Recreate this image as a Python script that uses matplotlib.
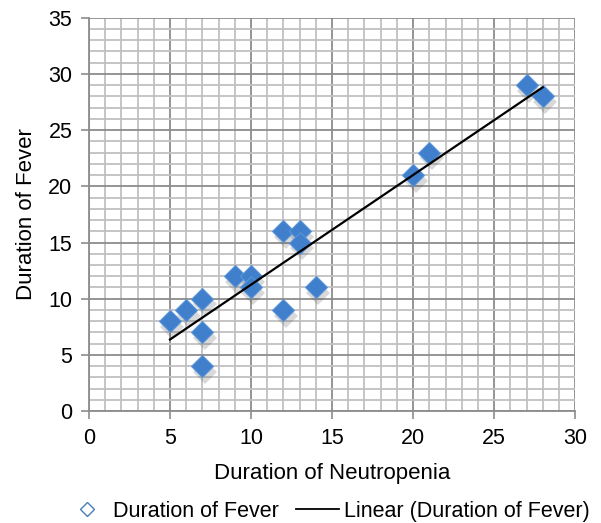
import matplotlib
matplotlib.use("Agg")
import matplotlib.pyplot as plt
import numpy as np
from matplotlib.lines import Line2D

neutropenia = [5, 6, 7, 7, 7, 9, 10, 10, 12, 12, 13, 13, 14, 20, 21, 27, 28]
fever = [8, 9, 10, 7, 4, 12, 12, 11, 16, 9, 16, 15, 11, 21, 23, 29, 28]
x_ticks = [0, 5, 10, 15, 20, 25, 30]
y_ticks = [0, 5, 10, 15, 20, 25, 30, 35]

plt.rcParams['font.family'] = ['Liberation Sans', 'DejaVu Sans']

fig = plt.figure(figsize=(6.01, 5.23), dpi=100)
ax = fig.add_axes([0.148, 0.214, 0.809, 0.752])

ax.set_xlim(0, 30)
ax.set_ylim(0, 35)
ax.set_xticks(x_ticks)
ax.set_yticks(y_ticks)
ax.set_xticks(np.arange(0, 31, 1), minor=True)
ax.set_yticks(np.arange(0, 36, 1), minor=True)
ax.grid(which='minor', color='#c0c0c0', linewidth=1.3, zorder=0)
ax.grid(which='major', color='#8c8c8c', linewidth=1.3, zorder=0)
ax.tick_params(which='minor', length=0)
ax.tick_params(which='major', length=6, width=1.2, color='#8c8c8c', labelsize=15.5,
               direction='out', pad=6)
for s in ['top', 'right']:
    ax.spines[s].set_visible(False)
for s in ['left', 'bottom']:
    ax.spines[s].set_color('#8c8c8c')
    ax.spines[s].set_linewidth(1.3)

x = np.array(neutropenia, dtype=float)
y = np.array(fever, dtype=float)

# shadow
ax.plot(x + 0.15, y - 0.5, linestyle='none', marker='D', markersize=12,
        color='#555555', alpha=0.22, markeredgewidth=0, zorder=2, clip_on=False)
ax.plot(x, y, linestyle='none', marker='D', markersize=11.5,
        markerfacecolor='#3f7fcc', markeredgecolor='#5a94d8', markeredgewidth=0.8,
        zorder=3, clip_on=False)

m, b = np.polyfit(x, y, 1)
xs = np.array([x.min(), x.max()])
ax.plot(xs, m * xs + b, color='black', linewidth=1.6, zorder=4)

ax.set_xlabel('Duration of Neutropenia', fontsize=16, labelpad=10)
ax.set_ylabel('Duration of Fever', fontsize=16, labelpad=8)

handles = [
    Line2D([], [], linestyle='none', marker='D', markersize=7,
           markerfacecolor='white', markeredgecolor='#4a7ebb', markeredgewidth=1.0),
    Line2D([], [], color='black', linewidth=1.3),
]
fig.legend(handles, ['Duration of Fever', 'Linear (Duration of Fever)'],
           loc='center', bbox_to_anchor=(0.545, 0.022), ncol=2, frameon=False,
           fontsize=15.5, handlelength=2.0, columnspacing=0.8, handletextpad=0.2,
           borderpad=0.1)

fig.savefig('out.png', dpi=100)
